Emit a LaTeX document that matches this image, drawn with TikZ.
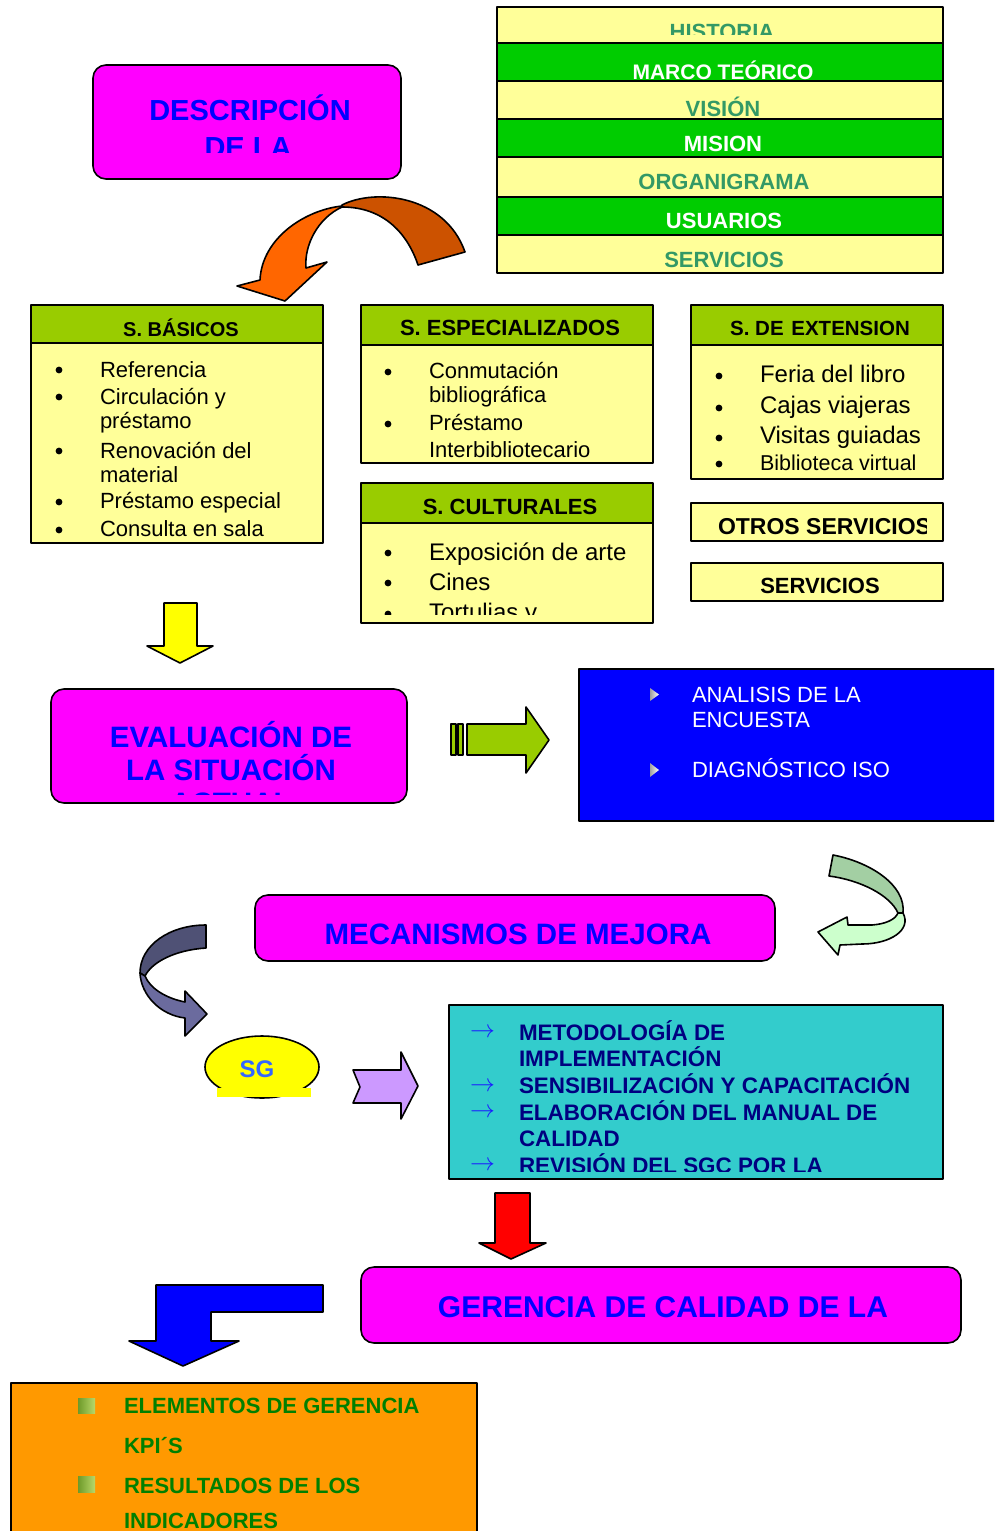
\documentclass[tikz,border=0pt]{standalone}
\usepackage{fontspec}
\setmainfont{Liberation Sans}
\usetikzlibrary{shapes.geometric}
\newcommand\fsz[1]{\fontsize{#1}{#1}\selectfont}
\definecolor{ltyellow}{HTML}{FFFF99}
\definecolor{brgreen}{HTML}{00CC00}
\definecolor{sgreen}{HTML}{339966}
\definecolor{hdrgreen}{HTML}{99CC00}
\definecolor{mag}{HTML}{FF00FF}
\definecolor{pureblue}{HTML}{0000FF}
\definecolor{teal2}{HTML}{33CCCC}
\definecolor{navy2}{HTML}{000080}
\definecolor{arrblue}{HTML}{1A1AFF}
\definecolor{orng}{HTML}{FF9900}
\definecolor{dkgreen}{HTML}{008000}
\definecolor{sgblue}{HTML}{3366FF}
\definecolor{lav}{HTML}{CC99FF}
\definecolor{redarr}{HTML}{FF0000}
\definecolor{yelarr}{HTML}{FFFF00}
\definecolor{orangeA}{HTML}{FF6600}
\definecolor{orangeB}{HTML}{CC5200}
\definecolor{mintA}{HTML}{A3CFA3}
\definecolor{mintB}{HTML}{CCFFCC}
\definecolor{slateA}{HTML}{4F5175}
\definecolor{slateB}{HTML}{6B6B9E}
\definecolor{chipA}{HTML}{6E9A2A}
\definecolor{chipB}{HTML}{B8D86A}
\begin{document}
\begin{tikzpicture}[x=1pt,y=-1pt,
  frame/.style={draw=black,line width=1.6pt,line join=round},
  panel/.style={frame,inner sep=0pt,outer sep=0pt,anchor=north west},
  roundpanel/.style={panel,rounded corners=13pt,fill=mag},
  txt/.style={inner sep=0pt,outer sep=0pt},
  ctr/.style={txt,anchor=base},
  lft/.style={txt,anchor=base west},
  stackdark/.style={ctr,font=\fsz{22}\bfseries,text=sgreen},
  stacklight/.style={ctr,font=\fsz{22}\bfseries,text=white},
  hdr/.style={font=\fsz{22}\bfseries,text=black},
  item/.style={lft,font=\fsz{22}},
  bigblue/.style={ctr,font=\fsz{29.5}\bfseries,text=pureblue},
  cyanitem/.style={lft,font=\fsz{22.4}\bfseries,text=navy2},
  cyanarrow/.style={txt,anchor=west,font=\fsz{24},text=arrblue},
  orgitem/.style={lft,font=\fsz{22}\bfseries,text=dkgreen},
  blueitem/.style={lft,font=\fsz{22},text=white},
]
\useasboundingbox (0,0) rectangle (994,1531);
\fill[white] (0,0) rectangle (994,1531);
\clip (0,0) rectangle (994,1531);

% ---------- description of the library ----------
\node[roundpanel,minimum width=308,minimum height=114] (desc) at (93,65) {};
\begin{scope}
  \clip (93,65) rectangle (401,152);
  \node[bigblue,font=\fsz{29}\bfseries] (descA) at (250,120) {DESCRIPCIÓN};
  \node[bigblue,font=\fsz{29}\bfseries] (descB) at (248,157) {DE LA};
\end{scope}

% ---------- stacked topics ----------
\node[panel,fill=ltyellow,minimum width=446,minimum height=36] (hist) at (497,7) {};
\node[panel,fill=brgreen,minimum width=446,minimum height=38] (marco) at (497,43) {};
\node[panel,fill=ltyellow,minimum width=446,minimum height=38] (vision) at (497,81) {};
\node[panel,fill=brgreen,minimum width=446,minimum height=38] (mision) at (497,119) {};
\node[panel,fill=ltyellow,minimum width=446,minimum height=40] (organ) at (497,157) {};
\node[panel,fill=brgreen,minimum width=446,minimum height=38] (usu) at (497,197) {};
\node[panel,fill=ltyellow,minimum width=446,minimum height=38] (serv) at (497,235) {};
\begin{scope}
  \clip (497,7) rectangle (943,34);
  \node[stackdark] (histT) at (722,39) {HISTORIA};
\end{scope}
\node[stacklight,font=\fsz{21}\bfseries] (marcoT) at (723,79) {MARCO TEÓRICO};
\begin{scope}
  \clip (497,81) rectangle (943,117.5);
  \node[stackdark] (visionT) at (723,116) {VISIÓN};
\end{scope}
\node[stacklight] (misionT) at (723,151) {MISION};
\node[stackdark] (organT) at (724,189) {ORGANIGRAMA};
\node[stacklight] (usuT) at (724,228) {USUARIOS};
\node[stackdark] (servT) at (724,267) {SERVICIOS};

% ---------- curved orange arrow ----------
\filldraw[frame,fill=orangeB] (342,205) .. controls (375,188) and (445,195) .. (465,252)
  -- (418,265) .. controls (408,235) and (385,207) .. (342,207) -- cycle;
\filldraw[frame,fill=orangeA] (342,206) .. controls (305,210) and (262,238) .. (260,280)
  -- (237,286) -- (285,301) -- (327,262) -- (306,268)
  .. controls (304,245) and (318,218) .. (342,207) -- cycle;

% ---------- S. BASICOS ----------
\node[panel,fill=hdrgreen,minimum width=292,minimum height=38] (basH) at (31,305) {};
\node[panel,fill=ltyellow,minimum width=292,minimum height=200] (basB) at (31,343) {};
\node[ctr,hdr,font=\fsz{20}\bfseries] (basT) at (181,336) {S. BÁSICOS};
\foreach \yy in {370,397,451,502,530} \fill (59,\yy) circle (3.4pt);
\node[item] (b1) at (100,377) {Referencia};
\node[item] (b2) at (100,404) {Circulación y};
\node[item] (b3) at (100,428) {préstamo};
\node[item] (b4) at (100,458) {Renovación del};
\node[item] (b5) at (100,482) {material};
\node[item] (b6) at (100,508) {Préstamo especial};
\node[item] (b7) at (100,536) {Consulta en sala};

% ---------- S. ESPECIALIZADOS ----------
\node[panel,fill=hdrgreen,minimum width=292,minimum height=40] (espH) at (361,305) {};
\node[panel,fill=ltyellow,minimum width=292,minimum height=118] (espB) at (361,345) {};
\begin{scope}
  \clip (361,305) rectangle (623,345);
  \node[lft,hdr] (espT) at (400,335) {S. ESPECIALIZADOS};
\end{scope}
\foreach \yy in {372,424} \fill (388,\yy) circle (3.4pt);
\begin{scope}
  \clip (361,345) rectangle (594,463);
  \node[item] (e1) at (429,378) {Conmutación};
  \node[item] (e2) at (429,402) {bibliográfica};
  \node[item] (e3) at (429,430) {Préstamo};
  \node[item] (e4) at (429,457) {Interbibliotecario};
\end{scope}

% ---------- S. DE EXTENSION ----------
\node[panel,fill=hdrgreen,minimum width=252,minimum height=40] (extH) at (691,305) {};
\node[panel,fill=ltyellow,minimum width=252,minimum height=134] (extB) at (691,345) {};
\node[ctr,hdr,font=\fsz{20.5}\bfseries] (extT) at (820,335) {S. DE\hspace{2pt} EXTENSION};
\foreach \yy in {376,408,438,464} \fill (719,\yy) circle (3.4pt);
\node[item,font=\fsz{24}] (x1) at (760,382) {Feria del libro};
\node[item,font=\fsz{24}] (x2) at (760,413) {Cajas viajeras};
\node[item,font=\fsz{24}] (x3) at (760,443) {Visitas guiadas};
\node[item,font=\fsz{21.5}] (x4) at (760,470) {Biblioteca virtual};

% ---------- S. CULTURALES ----------
\node[panel,fill=hdrgreen,minimum width=292,minimum height=40] (culH) at (361,483) {};
\node[panel,fill=ltyellow,minimum width=292,minimum height=100] (culB) at (361,523) {};
\node[ctr,hdr] (culT) at (510,514) {S. CULTURALES};
\begin{scope}
  \clip (361,523) rectangle (653,614);
  \foreach \yy in {553,583,614} \fill (388,\yy) circle (3.4pt);
  \node[item,font=\fsz{24}] (c1) at (429,560) {Exposición de arte};
  \node[item,font=\fsz{24}] (c2) at (429,590) {Cines};
  \node[item,font=\fsz{24}] (c3) at (429,620) {Tortulias y};
\end{scope}

% ---------- other services ----------
\node[panel,fill=ltyellow,minimum width=252,minimum height=38] (otros) at (691,503) {};
\begin{scope}
  \clip (691,503) rectangle (926,541);
  \node[lft,hdr,font=\fsz{23}\bfseries] (otrosT) at (718,534) {OTROS SERVICIOS};
\end{scope}
\node[panel,fill=ltyellow,minimum width=252,minimum height=38] (servicios) at (691,563) {};
\node[ctr,hdr] (serviciosT) at (820,593) {SERVICIOS};

% ---------- yellow down arrow ----------
\filldraw[frame,fill=yelarr] (164,603) -- (197,603) -- (197,646) -- (213,646) -- (180,663)
  -- (147,646) -- (164,646) -- cycle;

% ---------- evaluation ----------
\node[roundpanel,minimum width=356,minimum height=114] (eval) at (51,689) {};
\begin{scope}
  \clip (51,689) rectangle (407,794);
  \node[bigblue] (evalA) at (231,747) {EVALUACIÓN DE};
  \node[bigblue] (evalB) at (231,780) {LA SITUACIÓN};
  \node[bigblue] (evalC) at (231,813) {ACTUAL};
\end{scope}

% ---------- striped green arrow ----------
\filldraw[frame,line width=1.2pt,fill=hdrgreen] (451,724) rectangle (456,755);
\filldraw[frame,line width=1.2pt,fill=hdrgreen] (458,724) rectangle (463,755);
\filldraw[frame,fill=hdrgreen] (467,724) -- (526,724) -- (526,707) -- (549,740)
  -- (526,773) -- (526,755) -- (467,755) -- cycle;

% ---------- blue panel ----------
\node[panel,fill=pureblue,minimum width=430,minimum height=152] (diag) at (579,669) {};
\shade[left color=gray!75,right color=white] (650,688) -- (650,701) -- (659,694.5) -- cycle;
\shade[left color=gray!75,right color=white] (650,763) -- (650,777) -- (659,770) -- cycle;
\node[blueitem] (d1) at (692,702) {ANALISIS DE LA};
\node[blueitem] (d2) at (692,727) {ENCUESTA};
\node[blueitem] (d3) at (692,777) {DIAGNÓSTICO ISO};

% ---------- pale green curved arrow ----------
\filldraw[frame,fill=mintA] (833,855) .. controls (870,862) and (906,885) .. (903,913)
  -- (898,913) .. controls (890,895) and (860,880) .. (829,876) -- cycle;
\filldraw[frame,fill=mintB] (903,913) .. controls (912,930) and (890,944) .. (862,944)
  -- (840,945) -- (838,955) -- (818,932) -- (847,917) -- (848,925) -- (872,925)
  .. controls (885,924) and (895,920) .. (898,913) -- cycle;

% ---------- improvement mechanisms ----------
\node[roundpanel,minimum width=520,minimum height=66] (mec) at (255,895) {};
\begin{scope}
  \clip (255,895) rectangle (775,944);
  \node[bigblue] (mecT) at (518,944.5) {MECANISMOS DE MEJORA};
\end{scope}

% ---------- slate curved arrow ----------
\filldraw[frame,fill=slateA] (206,925) .. controls (170,925) and (140,945) .. (140,973)
  -- (145,976) .. controls (152,962) and (175,950) .. (206,948) -- cycle;
\filldraw[frame,fill=slateB] (140,973) .. controls (141,995) and (160,1015) .. (185,1018)
  -- (185,1036) -- (207,1014) -- (185,991) -- (185,1002)
  .. controls (165,998) and (150,988) .. (145,976) -- cycle;

% ---------- SG ----------
\node[frame,fill=yelarr,ellipse,minimum width=114,minimum height=62,inner sep=0pt] (sg) at (262,1067) {};
\fill[yelarr] (217,1088) rectangle (311,1097);
\node[ctr,font=\fsz{24}\bfseries,text=sgblue] (sgT) at (257,1077) {SG};

% ---------- lavender notched arrow ----------
\filldraw[frame,fill=lav] (353,1070) -- (401,1070) -- (401,1052) -- (418,1086) -- (401,1119)
  -- (401,1103) -- (353,1103) -- (360,1087) -- cycle;

% ---------- implementation steps ----------
\node[panel,fill=teal2,minimum width=494,minimum height=174] (steps) at (449,1005) {};
\begin{scope}
  \clip (449,1005) rectangle (943,1171);
  \node[cyanarrow] (a1) at (470,1033) {$\rightarrow$};
  \node[cyanarrow] (a2) at (470,1087) {$\rightarrow$};
  \node[cyanarrow] (a3) at (470,1113) {$\rightarrow$};
  \node[cyanarrow] (a4) at (470,1166) {$\rightarrow$};
  \node[cyanitem] (s1) at (519,1040) {METODOLOGÍA DE};
  \node[cyanitem] (s2) at (519,1066) {IMPLEMENTACIÓN};
  \node[cyanitem] (s3) at (519,1093) {SENSIBILIZACIÓN Y CAPACITACIÓN};
  \node[cyanitem] (s4) at (519,1120) {ELABORACIÓN DEL MANUAL DE};
  \node[cyanitem] (s5) at (519,1146) {CALIDAD};
  \node[cyanitem] (s6) at (519,1173) {REVISIÓN DEL SGC POR LA};
\end{scope}

% ---------- red down arrow ----------
\filldraw[frame,fill=redarr] (495,1193) -- (530,1193) -- (530,1243) -- (546,1243) -- (511,1259)
  -- (479,1243) -- (495,1243) -- cycle;

% ---------- quality management ----------
\node[roundpanel,minimum width=600,minimum height=76] (ger) at (361,1267) {};
\node[bigblue,font=\fsz{30}\bfseries] (gerT) at (663,1317) {GERENCIA DE CALIDAD DE LA};

% ---------- blue bent arrow ----------
\filldraw[frame,fill=pureblue] (323,1285) -- (156,1285) -- (156,1341) -- (129,1341) -- (183,1366)
  -- (239,1341) -- (211,1341) -- (211,1312) -- (323,1312) -- cycle;

% ---------- indicators ----------
\node[panel,fill=orng,minimum width=466,minimum height=170] (ind) at (11,1383) {};
\shade[left color=chipA,right color=chipB] (78,1398) rectangle (95,1413);
\shade[left color=chipA,right color=chipB] (78,1476) rectangle (95,1492);
\node[orgitem] (o1) at (124,1413) {ELEMENTOS DE GERENCIA};
\node[orgitem] (o2) at (124,1453) {KPI´S};
\node[orgitem] (o3) at (124,1493) {RESULTADOS DE LOS};
\node[orgitem] (o4) at (124,1528) {INDICADORES};
\end{tikzpicture}
\end{document}
